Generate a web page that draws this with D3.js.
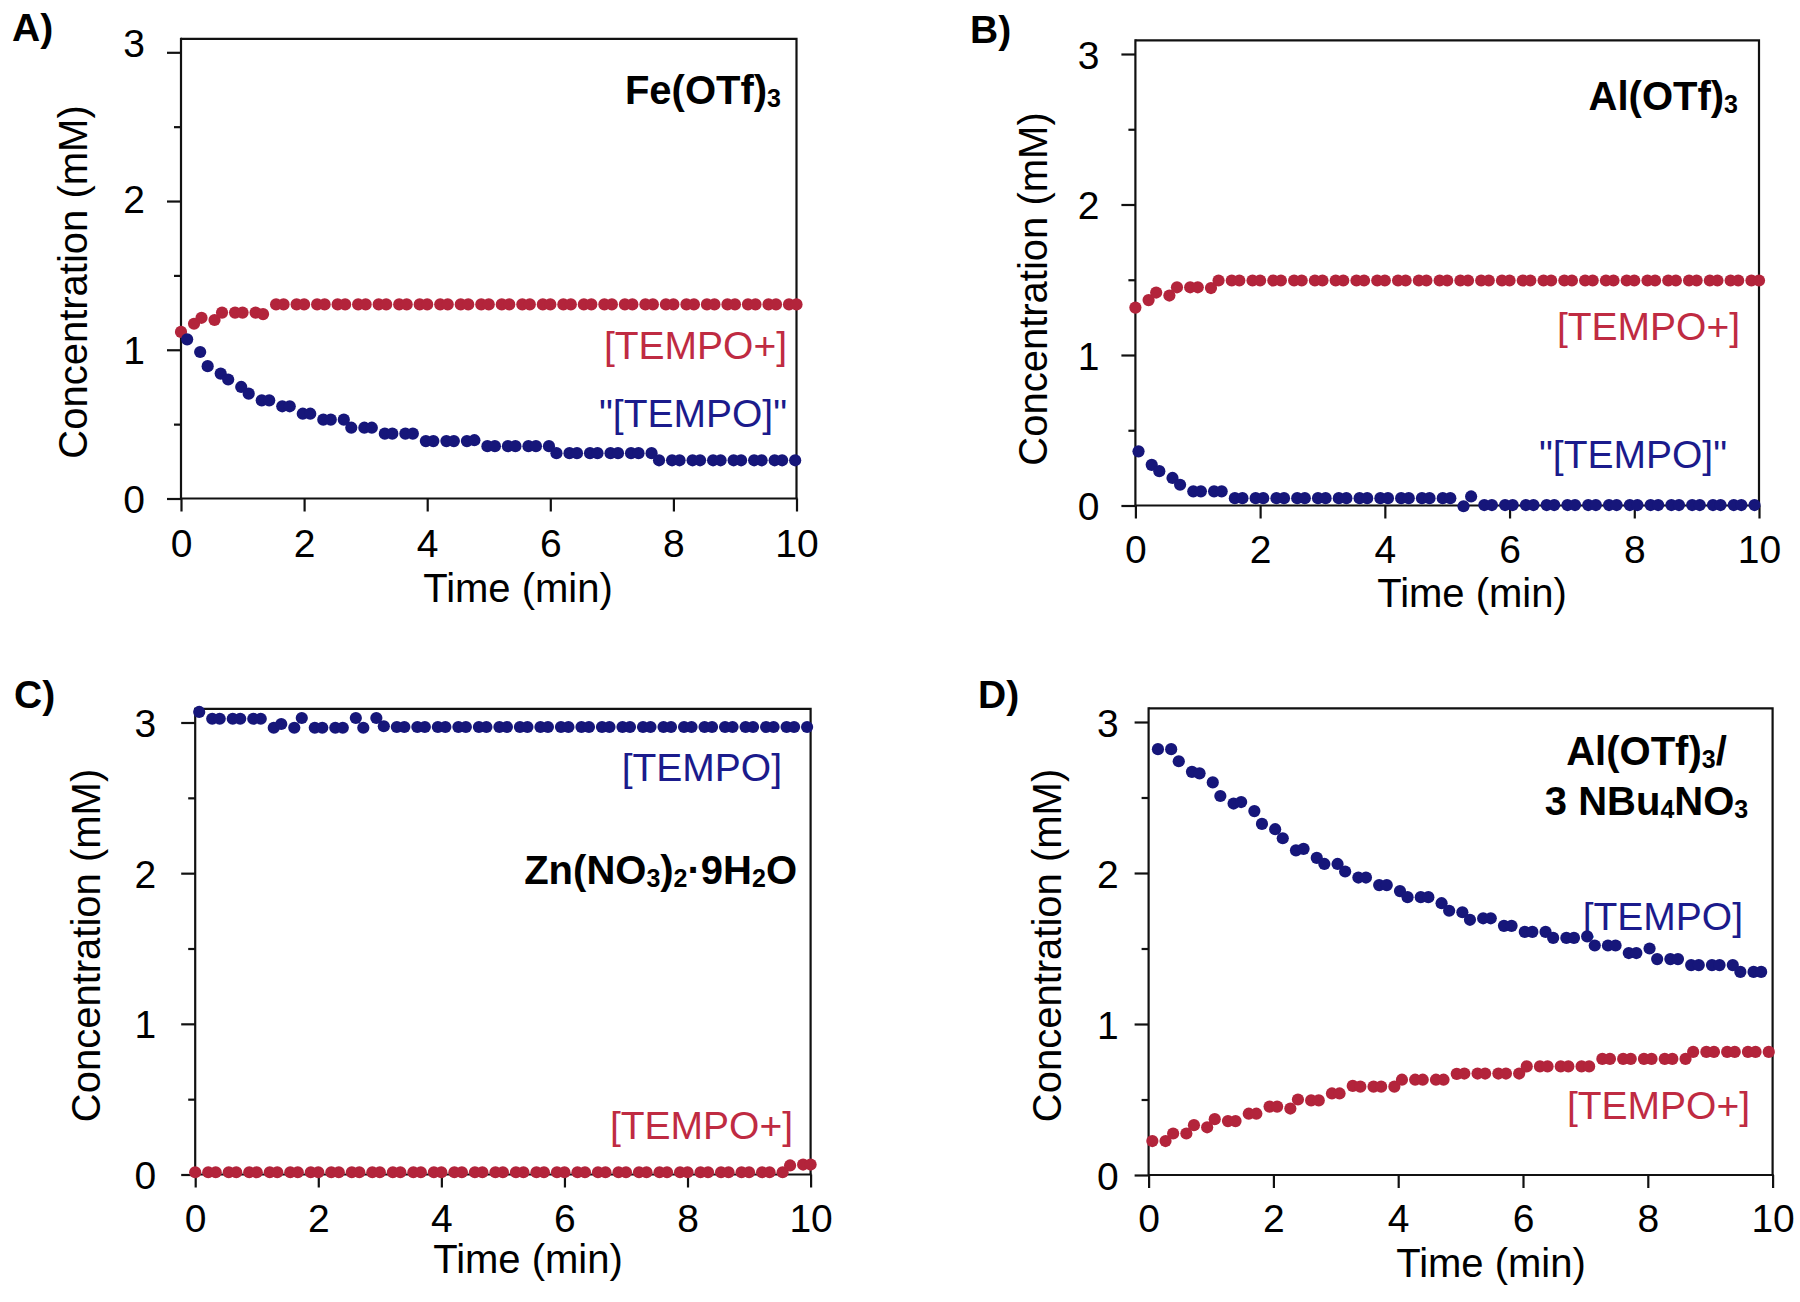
<!DOCTYPE html>
<html>
<head>
<meta charset="utf-8">
<script src="https://cdn.jsdelivr.net/npm/d3@7"></script>
<style>body{margin:0;background:#fff}</style>
</head>
<body>
<script>
// ---------------- DATA ----------------
const xTicks = [0, 2, 4, 6, 8, 10];
const yTicksMajor = [0, 1, 2, 3];
const yTicksMinor = [0.5, 1.5, 2.5];
const yAxisTop = 3.09;

// sampling: ~10 s interval, samples come in pairs
const SAMPLE_STEP = 1 / 6, PAIR_OFFSET = 0.045;

// first sample time (min) of each series
const aStart = { plus: 0, tempo: 0.1 };
const bStart = { plus: 0, tempo: 0.05 };
const cStart = { plus: 0, tempo: 0.065 };
const dStart = { plus: 0.06, tempo: 0.15 };

// A) Fe(OTf)3
const aTempoPlus = [1.12,1.175,1.215,1.2,1.25,1.25,1.25,1.25,1.24,1.305,
  1.305,1.305,1.305,1.305,1.305,1.305,1.305,1.305,1.305,1.305,
  1.305,1.305,1.305,1.305,1.305,1.305,1.305,1.305,1.305,1.305,
  1.305,1.305,1.305,1.305,1.305,1.305,1.305,1.305,1.305,1.305,
  1.305,1.305,1.305,1.305,1.305,1.305,1.305,1.305,1.305,1.305,
  1.305,1.305,1.305,1.305,1.305,1.305,1.305,1.305,1.305,1.305,
  1.305];
const aTempo = [1.07,0.985,0.89,0.84,0.80,0.75,0.705,0.66,0.66,0.62,
  0.62,0.57,0.57,0.53,0.53,0.53,0.476,0.476,0.476,0.436,
  0.436,0.436,0.436,0.386,0.386,0.386,0.386,0.386,0.392,0.352,
  0.352,0.352,0.352,0.352,0.352,0.352,0.305,0.305,0.305,0.305,
  0.305,0.305,0.305,0.305,0.305,0.305,0.257,0.257,0.257,0.257,
  0.257,0.257,0.257,0.257,0.257,0.257,0.257,0.257,0.257,0.257];

// B) Al(OTf)3
const bTempoPlus = [1.315,1.365,1.415,1.395,1.45,1.45,1.45,1.445,1.495,1.495,
  1.495,1.495,1.495,1.495,1.495,1.495,1.495,1.495,1.495,1.495,
  1.495,1.495,1.495,1.495,1.495,1.495,1.495,1.495,1.495,1.495,
  1.495,1.495,1.495,1.495,1.495,1.495,1.495,1.495,1.495,1.495,
  1.495,1.495,1.495,1.495,1.495,1.495,1.495,1.495,1.495,1.495,
  1.495,1.495,1.495,1.495,1.495,1.495,1.495,1.495,1.495,1.495,
  1.495];
const bTempo = [0.36,0.27,0.228,0.183,0.138,0.094,0.094,0.094,0.094,0.049,
  0.049,0.049,0.049,0.049,0.049,0.049,0.049,0.049,0.049,0.049,
  0.049,0.049,0.049,0.049,0.049,0.049,0.049,0.049,0.049,0.049,
  0.049,-0.005,0.06,0.003,0.003,0.003,0.003,0.003,0.003,0.003,
  0.003,0.003,0.003,0.003,0.003,0.003,0.003,0.003,0.003,0.003,
  0.003,0.003,0.003,0.003,0.003,0.003,0.003,0.003,0.003,0.003];

// C) Zn(NO3)2·9H2O
const cTempoPlus = [0.015,0.015,0.015,0.015,0.015,0.015,0.015,0.015,0.015,0.015,
  0.015,0.015,0.015,0.015,0.015,0.015,0.015,0.015,0.015,0.015,
  0.015,0.015,0.015,0.015,0.015,0.015,0.015,0.015,0.015,0.015,
  0.015,0.015,0.015,0.015,0.015,0.015,0.015,0.015,0.015,0.015,
  0.015,0.015,0.015,0.015,0.015,0.015,0.015,0.015,0.015,0.015,
  0.015,0.015,0.015,0.015,0.015,0.015,0.015,0.015,0.06,0.066,
  0.066];
const cTempo = [3.07,3.025,3.025,3.025,3.025,3.025,3.025,2.965,2.99,2.965,
  3.03,2.965,2.965,2.965,2.965,3.03,2.965,3.03,2.975,2.97,
  2.97,2.97,2.97,2.97,2.97,2.97,2.97,2.97,2.97,2.97,
  2.97,2.97,2.97,2.97,2.97,2.97,2.97,2.97,2.97,2.97,
  2.97,2.97,2.97,2.97,2.97,2.97,2.97,2.97,2.97,2.97,
  2.97,2.97,2.97,2.97,2.97,2.97,2.97,2.97,2.97,2.97];

// D) Al(OTf)3 / 3 NBu4NO3
const dTempoPlus = [0.225,0.225,0.275,0.275,0.33,0.316,0.37,0.357,0.357,0.406,
  0.406,0.453,0.453,0.44,0.50,0.494,0.494,0.54,0.54,0.59,
  0.585,0.585,0.585,0.585,0.631,0.631,0.631,0.631,0.631,0.67,
  0.672,0.672,0.672,0.672,0.672,0.672,0.719,0.719,0.719,0.719,
  0.719,0.719,0.719,0.769,0.769,0.769,0.769,0.769,0.769,0.769,
  0.769,0.769,0.815,0.815,0.815,0.815,0.815,0.815,0.815,0.815];
const dTempo = [2.82,2.82,2.74,2.67,2.66,2.60,2.51,2.46,2.47,2.41,
  2.325,2.29,2.23,2.15,2.16,2.10,2.06,2.06,2.01,1.97,
  1.97,1.92,1.92,1.88,1.84,1.84,1.84,1.80,1.75,1.74,
  1.69,1.70,1.70,1.65,1.65,1.61,1.61,1.61,1.57,1.57,
  1.57,1.58,1.52,1.52,1.52,1.47,1.47,1.50,1.43,1.43,
  1.43,1.39,1.39,1.39,1.39,1.39,1.345,1.345,1.345];

// ---------------- STYLE / LAYOUT ----------------
const FONT = '"Liberation Sans", Arial, Helvetica, sans-serif';
const RED = '#b3243b', BLUE = '#16167a';
const RED_TXT = '#bf2b42', BLUE_TXT = '#1b1b8c';
const AXIS = '#111', AXW = 2.2;
const DOT_R = 6.1;

const panels = [
  { letter: 'A)', lx: 12, ly: 41,
    x0: 181, x1: 796.5, y0: 498.5, y3: 52.3, tickPad: 22, nudge: {3: -10, 2: -3},
    xLabelY: 58.5, xTitle: [518, 602], yTitle: [87, 282],
    compound: { anchor: 'end', x: 781, ys: [104], lines: [[['Fe(OTf)',0],['3',1]]] },
    labels: [ { t: '[TEMPO+]', c: RED_TXT, x: 787, y: 359 }, { t: '"[TEMPO]"', c: BLUE_TXT, x: 787, y: 427 } ],
    series: [ { v: aTempoPlus, s: aStart.plus, c: RED }, { v: aTempo, s: aStart.tempo, c: BLUE } ] },
  { letter: 'B)', lx: 970, ly: 43,
    x0: 1135.4, x1: 1759, y0: 505.5, y3: 54, tickPad: 22, nudge: {},
    xLabelY: 57, xTitle: [1472, 607], yTitle: [1047, 289],
    compound: { anchor: 'end', x: 1738, ys: [110], lines: [[['Al(OTf)',0],['3',1]]] },
    labels: [ { t: '[TEMPO+]', c: RED_TXT, x: 1740, y: 340 }, { t: '"[TEMPO]"', c: BLUE_TXT, x: 1727, y: 468 } ],
    series: [ { v: bTempoPlus, s: bStart.plus, c: RED }, { v: bTempo, s: bStart.tempo, c: BLUE } ] },
  { letter: 'C)', lx: 14, ly: 708,
    x0: 195.2, x1: 810.6, y0: 1174.5, y3: 722.5, tickPad: 25, nudge: {},
    xLabelY: 57.5, xTitle: [528, 1273], yTitle: [99.5, 945.5],
    compound: { anchor: 'end', x: 797, ys: [884], lines: [[['Zn(NO',0],['3',1],[')',0],['2',1],['\u00b79H',0],['2',1],['O',0]]] },
    labels: [ { t: '[TEMPO]', c: BLUE_TXT, x: 782, y: 781 }, { t: '[TEMPO+]', c: RED_TXT, x: 793, y: 1139 } ],
    series: [ { v: cTempoPlus, s: cStart.plus, c: RED }, { v: cTempo, s: cStart.tempo, c: BLUE } ] },
  { letter: 'D)', lx: 978, ly: 708,
    x0: 1148.6, x1: 1772.6, y0: 1175, y3: 722, tickPad: 16, nudge: {},
    xLabelY: 57, xTitle: [1491, 1277], yTitle: [1061, 945.5],
    compound: { anchor: 'middle', x: 1646.5, ys: [765, 815],
      lines: [[['Al(OTf)',0],['3',1],['/',0]], [['3 NBu',0],['4',1],['NO',0],['3',1]]] },
    labels: [ { t: '[TEMPO]', c: BLUE_TXT, x: 1743, y: 930 }, { t: '[TEMPO+]', c: RED_TXT, x: 1750, y: 1119 } ],
    series: [ { v: dTempoPlus, s: dStart.plus, c: RED }, { v: dTempo, s: dStart.tempo, c: BLUE } ] }
];

const sampleTimes = (first, n) => d3.range(n).map(i => first + i * SAMPLE_STEP + (i % 2) * PAIR_OFFSET);

// ---------------- DRAW ----------------
const svg = d3.select('body').append('svg')
  .attr('width', 1800).attr('height', 1302)
  .attr('font-family', FONT);
svg.append('rect').attr('width', 1800).attr('height', 1302).attr('fill', '#fff');

function richText(g, x, y, parts, anchor, size, subSize) {
  const t = g.append('text').attr('x', x).attr('y', y).attr('text-anchor', anchor)
    .attr('font-size', size).attr('font-weight', 'bold').attr('fill', '#000');
  let inSub = false;
  parts.forEach(([txt, sub]) => {
    const ts = t.append('tspan').text(txt);
    if (sub && !inSub) { ts.attr('dy', 3).attr('font-size', subSize); inSub = true; }
    else if (sub) { ts.attr('font-size', subSize); }
    else if (!sub && inSub) { ts.attr('dy', -3); inSub = false; }
  });
}

panels.forEach(p => {
  const g = svg.append('g');
  const x = d3.scaleLinear().domain([0, 10]).range([p.x0, p.x1]);
  const y = d3.scaleLinear().domain([0, 3]).range([p.y0, p.y3]);
  const top = y(yAxisTop);

  // frame + axis lines
  g.append('path')
    .attr('d', `M${x(0)},${top}H${x(10)}V${y(0)}`)
    .attr('fill', 'none').attr('stroke', AXIS).attr('stroke-width', AXW);
  g.append('line').attr('x1', x(0)).attr('x2', x(0)).attr('y1', top - AXW / 2).attr('y2', y(0))
    .attr('stroke', AXIS).attr('stroke-width', AXW);
  g.append('line').attr('x1', x(0)).attr('x2', x(10) + AXW / 2).attr('y1', y(0)).attr('y2', y(0))
    .attr('stroke', AXIS).attr('stroke-width', AXW);

  // y axis major
  const ya = g.append('g').attr('transform', `translate(${x(0)},0)`)
    .call(d3.axisLeft(y).tickValues(yTicksMajor).tickSize(14).tickPadding(p.tickPad).tickFormat(d3.format('d')));
  ya.select('.domain').remove();
  ya.attr('font-family', FONT).attr('font-size', 39);
  ya.selectAll('line').attr('stroke', AXIS).attr('stroke-width', AXW);
  ya.selectAll('text').attr('fill', '#000').attr('dy', null).attr('y', d => 14 + (p.nudge[d] || 0));

  // y axis minor
  const ym = g.append('g').attr('transform', `translate(${x(0)},0)`)
    .call(d3.axisLeft(y).tickValues(yTicksMinor).tickSize(7).tickFormat(''));
  ym.select('.domain').remove();
  ym.selectAll('line').attr('stroke', AXIS).attr('stroke-width', AXW);

  // x axis
  const xa = g.append('g').attr('transform', `translate(0,${y(0)})`)
    .call(d3.axisBottom(x).tickValues(xTicks).tickSize(13).tickFormat(d3.format('d')));
  xa.select('.domain').remove();
  xa.attr('font-family', FONT).attr('font-size', 39);
  xa.selectAll('line').attr('stroke', AXIS).attr('stroke-width', AXW);
  xa.selectAll('text').attr('fill', '#000').attr('dy', null).attr('y', p.xLabelY);

  // axis titles
  g.append('text').attr('x', p.xTitle[0]).attr('y', p.xTitle[1]).attr('text-anchor', 'middle')
    .attr('font-size', 40).attr('fill', '#000').text('Time (min)');
  g.append('text').attr('transform', `translate(${p.yTitle[0]},${p.yTitle[1]}) rotate(-90)`)
    .attr('text-anchor', 'middle').attr('font-size', 40).attr('fill', '#000').text('Concentration (mM)');

  // panel letter
  g.append('text').attr('x', p.lx).attr('y', p.ly).attr('font-size', 39).attr('font-weight', 'bold')
    .attr('fill', '#000').text(p.letter);

  // compound label
  p.compound.lines.forEach((ln, i) => richText(g, p.compound.x, p.compound.ys[i], ln, p.compound.anchor, 40, 25));

  // series labels
  p.labels.forEach(l => g.append('text').attr('x', l.x).attr('y', l.y).attr('text-anchor', 'end')
    .attr('font-size', 39).attr('fill', l.c).text(l.t));

  // data points
  p.series.forEach(s => {
    const ts = sampleTimes(s.s, s.v.length);
    const pts = s.v.map((v, i) => ({ t: ts[i], v }));
    g.append('g').selectAll('circle').data(pts).join('circle')
      .attr('cx', d => x(d.t)).attr('cy', d => y(d.v)).attr('r', DOT_R).attr('fill', s.c);
  });
});
</script>
</body>
</html>
